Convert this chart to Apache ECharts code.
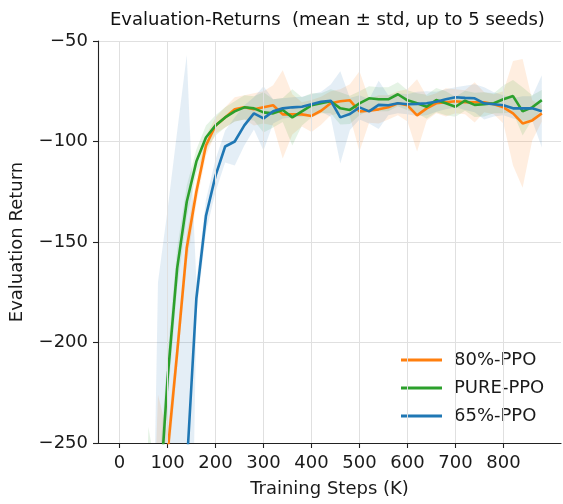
<!DOCTYPE html>
<html>
<head>
<meta charset="utf-8">
<script src="https://cdn.jsdelivr.net/npm/echarts@6/dist/echarts.min.js"></script>
<style>
html,body{margin:0;padding:0;background:#fff;}
#chart{width:563px;height:504px;}
</style>
</head>
<body>
<div id="chart"></div>
<script>
// Training steps (K)
var steps = [0,20,40,60,80,100,120,140,160,180,200,220,240,260,280,300,320,340,360,380,400,420,440,460,480,500,520,540,560,580,600,620,640,660,680,700,720,740,760,780,800,820,840,860,880];

// 80%-PPO
var orangeMean = [-620,-560,-490,-420,-330,-255,-205,-153,-125,-102,-92,-88,-84,-83,-84,-83,-82,-86.5,-86.5,-86.5,-87.3,-84.7,-81,-80,-79.5,-85,-84.7,-84,-83,-81,-82,-87,-83.5,-81,-80.5,-80,-80.5,-80.5,-80.5,-81.5,-83,-86,-91,-89.5,-86];
var orangeStd  = [40,40,45,50,104,10,8,8,6,5,4,5,6,6,8,8,10,22,10,6,8,7,6,6,8,20,6,7,6,6,8,18,6,5,7,6,6,10,5,5,8,26,32,10,4];

// PURE-PPO
var greenMean = [-650,-580,-480,-400,-290,-218,-163,-130,-110,-98,-92,-88,-85,-83,-83.5,-85.5,-86,-84.3,-88,-85,-82,-81,-80,-83.5,-84.3,-81,-78.5,-79,-79,-76.5,-79.5,-81,-82.7,-79.4,-81,-82.7,-79.7,-81.8,-81.5,-81,-79,-77.4,-85,-83,-79.4];
var greenStd  = [40,40,40,158,20,12,10,8,6,6,5,5,5,6,6,10,7,6,14,7,6,5,6,8,7,6,6,6,6,6,5,5,6,6,6,5,5,6,6,5,7,8,12,6,5];

// 65%-PPO
var blueMean = [-700,-650,-600,-520,-430,-400,-330,-262,-178,-137,-117,-102.5,-100,-92,-86,-88.5,-85,-83.5,-83,-82.7,-81.5,-80.2,-79.7,-88,-86.3,-83,-85,-81.8,-82,-81,-81.5,-81.3,-81,-80.2,-79,-78,-78.3,-78.5,-81,-81.5,-82,-83.5,-83.5,-83.5,-85];
var blueStd  = [50,50,60,80,260,266,235,205,8,8,8,8,12,10,8,16,6,5,5,5,5,5,8,23,8,6,6,12,5,5,5,6,6,5,5,5,6,7,8,6,5,5,6,6,18];

var xTicks = [0,100,200,300,400,500,600,700,800];
var yTicks = [-250,-200,-150,-100,-50];

var names = ['80%-PPO','PURE-PPO','65%-PPO'];
var colors = ['#ff7f0e','#2ca02c','#1f77b4'];
var bandFills = ['rgba(255,127,14,0.13)','rgba(44,160,44,0.12)','rgba(31,119,180,0.12)'];
var means = [orangeMean, greenMean, blueMean];
var stds = [orangeStd, greenStd, blueStd];

var FONT = 'DejaVu Sans';
var FS = 18;
var series = [];

// vertical grid lines at x ticks
series.push({
  type:'line', data:[], silent:true, z:0,
  markLine:{ silent:true, symbol:['none','none'], label:{show:false},
    lineStyle:{color:'#e0e0e0', width:1, type:'solid'},
    data: xTicks.map(function(v){return {xAxis:v};}) }
});

function makeBand(k){
  var lo = steps.map(function(s,i){return means[k][i]-stds[k][i];});
  var hi = steps.map(function(s,i){return means[k][i]+stds[k][i];});
  return {
    type:'custom', silent:true, clip:true, z:1,
    data: steps.map(function(s,i){return [s, lo[i], hi[i]];}),
    encode:{x:0, y:[1,2]},
    renderItem:function(params, api){
      if (params.dataIndex !== 0) return;
      var pts = [];
      for (var i=0;i<steps.length;i++) pts.push(api.coord([steps[i], hi[i]]));
      for (var j=steps.length-1;j>=0;j--) pts.push(api.coord([steps[j], lo[j]]));
      return {type:'polygon', shape:{points:pts}, style:{fill:bandFills[k], stroke:null}};
    }
  };
}
for (var k=0;k<3;k++) series.push(makeBand(k));

// mean lines
for (var k2=0;k2<3;k2++){
  series.push({type:'line', name:names[k2], data: steps.map(function(s,i){return [s, means[k2][i]];}),
    symbol:'none', color:colors[k2], lineStyle:{color:colors[k2], width:2.6}, z:3});
}

var chart = echarts.init(document.getElementById('chart'), null, {renderer:'canvas'});
chart.setOption({
  animation:false,
  backgroundColor:'#fff',
  title:{ text:'Evaluation-Returns  (mean \u00b1 std, up to 5 seeds)', left:110, top:11, padding:0,
    textStyle:{fontFamily:FONT, fontSize:FS, fontWeight:'normal', color:'#111'} },
  grid:{ left:97, top:41, width:464, height:402, containLabel:false },
  legend:{ data:names, orient:'vertical', left:401, top:351, padding:0, icon:'rect',
    itemWidth:41, itemHeight:3, itemGap:10,
    formatter:function(n){return '{t|'+n+'}';},
    textStyle:{fontFamily:FONT, fontSize:FS, lineHeight:18, color:'#1a1a1a',
      rich:{t:{fontFamily:FONT, fontSize:FS, lineHeight:18, color:'#1a1a1a', padding:[0,0,0,7]}}} },
  xAxis:{ type:'value', min:-45, max:920,
    name:'Training Steps (K)', nameLocation:'middle', nameGap:37,
    nameTextStyle:{fontFamily:FONT, fontSize:FS, color:'#1a1a1a'},
    axisLine:{show:true, onZero:false, lineStyle:{color:'#222', width:1.1}},
    axisTick:{show:true, length:5, lineStyle:{color:'#222', width:1.1}, customValues:xTicks},
    axisLabel:{fontFamily:FONT, fontSize:FS, color:'#1a1a1a', margin:11, customValues:xTicks},
    splitLine:{show:false} },
  yAxis:{ type:'value', min:-250, max:-50, interval:50,
    name:'Evaluation Return', nameLocation:'middle', nameGap:72,
    nameTextStyle:{fontFamily:FONT, fontSize:FS, color:'#1a1a1a'},
    axisLine:{show:true, onZero:false, lineStyle:{color:'#222', width:1.1}},
    axisTick:{show:true, length:5, lineStyle:{color:'#222', width:1.1}},
    axisLabel:{fontFamily:FONT, fontSize:FS, color:'#1a1a1a', margin:10,
      formatter:function(v){return String(v).replace('-','\u2212');}},
    splitLine:{show:true, lineStyle:{color:'#e0e0e0', width:1}} },
  series: series
});
</script>
</body>
</html>
